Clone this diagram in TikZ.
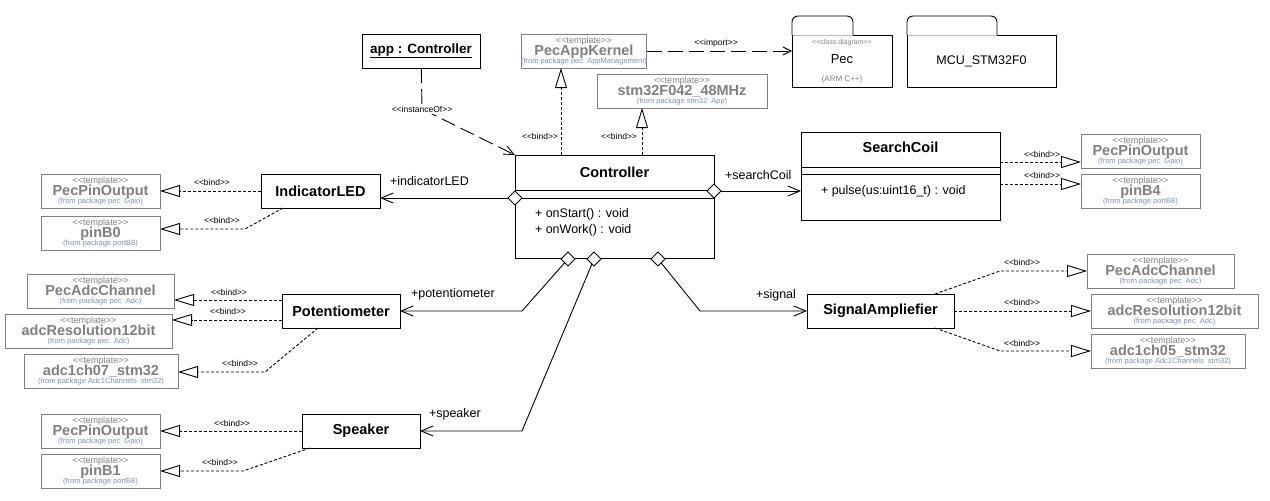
\documentclass[tikz,border=0pt]{standalone}
\usepackage{fontspec}
\setmainfont{Liberation Sans}
\usetikzlibrary{positioning,shapes.geometric,arrows.meta}

\definecolor{tgray}{RGB}{128,128,128}
\definecolor{tfrom}{RGB}{128,145,172}
\definecolor{pkgsep}{RGB}{190,190,190}

\newcommand{\stereo}[1]{<\kern0pt<#1>\kern0pt>}
\newcommand{\tmplbody}[2]{{\fontsize{9}{9}\selectfont\color{tgray}\stereo{template}}\\[2pt]%
  {\fontsize{14.5}{15}\selectfont\bfseries\color{tgray}#1}\\[-2pt]%
  {\fontsize{7.5}{7.5}\selectfont\color{tfrom}#2}}

\begin{document}
\begin{tikzpicture}[x=1pt, y=-1pt,
  every node/.style={inner sep=0pt, outer sep=0pt},
  classbox/.style={draw, line width=0.9pt, fill=white, anchor=north west, minimum height=34, font=\fontsize{14.5}{16}\selectfont\bfseries},
  tmplbox/.style={draw=tgray, line width=0.9pt, fill=white, anchor=north west, minimum height=34, align=center, font={\fontsize{7}{10}\selectfont\lineskiplimit=-50pt\relax}},
  pkgbox/.style={draw, line width=0.9pt, fill=white, anchor=north west, minimum height=52},
  aggr/.style={diamond, draw, fill=white, line width=0.8pt, minimum width=14, minimum height=14},
  assoc/.style={line width=0.9pt, -{Straight Barb[length=12pt,width=10pt]}},
  bindline/.style={line width=0.9pt, dash pattern=on 3pt off 2pt, -{Triangle[open,length=20pt,width=12pt]}},
  depline/.style={line width=0.9pt, dash pattern=on 15pt off 6pt, -{Straight Barb[length=10pt,width=9pt]}},
  stlbl/.style={font=\fontsize{8.5}{9}\selectfont},
  rolelbl/.style={font=\fontsize{12.5}{14}\selectfont, anchor=west},
]
\fill[white] (0,0) rectangle (1270,501);
\useasboundingbox (0,0) rectangle (1270,501);

% instance and templates at the top
\node[classbox, minimum width=118, font=\fontsize{13.5}{15}\selectfont\bfseries] (app) at (362,34) {\underline{app : Controller}};
\node[tmplbox, minimum width=119] (appkern) at (521,34) {\tmplbody{PecAppKernel}{(from package pec\ \ AppManagement)}};
\node[tmplbox, minimum width=170] (stm) at (597,74) {\tmplbody{stm32F042\_48MHz}{(from package stm32\ \ App)}};

% packages
\node[pkgbox, minimum width=100, align=center, font={\fontsize{7}{10}\selectfont\lineskiplimit=-50pt\relax}] (pec) at (792,35) {{\color{tgray}\stereo{class diagram}}\\[9pt]{\fontsize{13}{14}\selectfont Pec}\\[8pt]{\fontsize{8}{9}\selectfont\color{tgray}(ARM C++)}};
\draw[line width=0.9pt, rounded corners=6pt] (pec.north west) -- ([yshift=19pt]pec.north west) -- ([xshift=61pt,yshift=19pt]pec.north west) -- ([xshift=61pt]pec.north west);
\draw[pkgsep, line width=0.9pt] ([xshift=0.5pt]pec.north west) -- ([xshift=60.5pt]pec.north west);

\node[pkgbox, minimum width=149, font=\fontsize{12.5}{14}\selectfont] (mcu) at (907,35) {MCU\_STM32F0};
\draw[line width=0.9pt, rounded corners=6pt] (mcu.north west) -- ([yshift=19pt]mcu.north west) -- ([xshift=90pt,yshift=19pt]mcu.north west) -- ([xshift=90pt]mcu.north west);
\draw[pkgsep, line width=0.9pt] ([xshift=0.5pt]mcu.north west) -- ([xshift=89.5pt]mcu.north west);

% Controller
\node[classbox, minimum width=199, minimum height=103] (ctrl) at (515,155) {};
\node[font=\fontsize{14.5}{16}\selectfont\bfseries] (ctrlname) at ([yshift=-17pt]ctrl.north) {Controller};
\draw[line width=0.9pt] ([yshift=-35pt]ctrl.north west) -- ([yshift=-35pt]ctrl.north east);
\draw[line width=0.9pt] ([yshift=-43pt]ctrl.north west) -- ([yshift=-43pt]ctrl.north east);
\node[font=\fontsize{12.5}{16}\selectfont, align=left, anchor=north west] (ctrlops) at (535,208) {+ onStart() : void\\+ onWork() : void};

% SearchCoil
\node[classbox, minimum width=199, minimum height=88] (coil) at (801,132) {};
\node[font=\fontsize{14.5}{16}\selectfont\bfseries] (coilname) at ([yshift=-15pt]coil.north) {SearchCoil};
\draw[line width=0.9pt] ([yshift=-35pt]coil.north west) -- ([yshift=-35pt]coil.north east);
\draw[line width=0.9pt] ([yshift=-42pt]coil.north west) -- ([yshift=-42pt]coil.north east);
\node[font=\fontsize{12.5}{16}\selectfont, anchor=base west] (coilops) at (821,194) {+ pulse(us:uint16\_t) : void};

% the other classes
\node[classbox, minimum width=119] (ledA) at (261,174) {IndicatorLED};
\node[classbox, minimum width=118] (pot) at (282,294) {Potentiometer};
\node[classbox, minimum width=118] (spk) at (302,414) {Speaker};
\node[classbox, minimum width=147] (sig) at (807,294) {SignalAmpliefier};

% templates, left
\node[tmplbox, minimum width=119] (pinoutA) at (41,174) {\tmplbody{PecPinOutput}{(from package pec\ \ Gpio)}};
\node[tmplbox, minimum width=119] (pinbzero) at (41,216) {\tmplbody{pinB0}{(from package portB8)}};
\node[tmplbox, minimum width=147] (adcchanA) at (27,274) {\tmplbody{PecAdcChannel}{(from package pec\ \ Adc)}};
\node[tmplbox, minimum width=167] (adcresA) at (5,314) {\tmplbody{adcResolution12bit}{(from package pec\ \ Adc)}};
\node[tmplbox, minimum width=154] (adc07) at (24,354) {\tmplbody{adc1ch07\_stm32}{(from package Adc1Channels\ \ stm32)}};
\node[tmplbox, minimum width=119] (pinoutB) at (41,414) {\tmplbody{PecPinOutput}{(from package pec\ \ Gpio)}};
\node[tmplbox, minimum width=119] (pinbone) at (41,454) {\tmplbody{pinB1}{(from package portB8)}};

% templates, right
\node[tmplbox, minimum width=119] (pinoutC) at (1081,134) {\tmplbody{PecPinOutput}{(from package pec\ \ Gpio)}};
\node[tmplbox, minimum width=119] (pinbfour) at (1081,174) {\tmplbody{pinB4}{(from package portB8)}};
\node[tmplbox, minimum width=147] (adcchanB) at (1087,254) {\tmplbody{PecAdcChannel}{(from package pec\ \ Adc)}};
\node[tmplbox, minimum width=167] (adcresB) at (1091,294) {\tmplbody{adcResolution12bit}{(from package pec\ \ Adc)}};
\node[tmplbox, minimum width=154] (adc05) at (1091,334) {\tmplbody{adc1ch05\_stm32}{(from package Adc1Channels\ \ stm32)}};

% aggregation diamonds on the Controller
\node[aggr] (dled) at (515,198) {};
\node[aggr] (dcoil) at (714,191) {};
\node[aggr] (dpot) at (568,259) {};
\node[aggr] (dspk) at (594,259) {};
\node[aggr] (dsig) at (658,259) {};

% bend points and line ends
\coordinate (kinst) at (422,109);
\coordinate (cbA) at ([xshift=46pt]ctrl.north west);
\coordinate (cbB) at ([xshift=127pt]ctrl.north west);
\coordinate (kpotc) at (522,311);
\coordinate (kspkc) at (522,431);
\coordinate (ksig) at (700,311);
\coordinate (ledS) at ([xshift=22pt]ledA.south west);
\coordinate (kled) at (245,229);
\coordinate (potA) at ([yshift=11pt]pot.west);
\coordinate (potB) at ([yshift=-9pt]pot.west);
\coordinate (potS) at ([xshift=36pt]pot.south west);
\coordinate (kpot) at (265,372);
\coordinate (spkS) at ([xshift=8pt]spk.south west);
\coordinate (kspk) at (243,471);
\coordinate (coilA) at ([yshift=-30pt]coil.north east);
\coordinate (coilB) at ([yshift=-52pt]coil.north east);
\coordinate (sigN) at ([xshift=-19pt]sig.north east);
\coordinate (ksigA) at (1000,271);
\coordinate (sigS) at ([xshift=-19pt]sig.south east);
\coordinate (ksigC) at (1000,351);

% associations
\draw[assoc] (dled) -- (dled -| ledA.east);
\draw[assoc] (dcoil) -- (dcoil -| coil.west);
\draw[assoc] (dpot) -- (kpotc) -- (pot);
\draw[assoc] (dspk) -- (kspkc) -- (spk);
\draw[assoc] (dsig) -- (ksig) -- (sig);

% dependencies
\draw[depline] (app) -- (kinst) -- (ctrl.north west);
\draw[depline, -{Straight Barb[length=8pt,width=8pt]}] (appkern) -- (appkern -| pec.west);

% bindings
\draw[bindline] (cbA) -- (cbA |- appkern.south);
\draw[bindline] (cbB) -- (cbB |- stm.south);
\draw[bindline] (ledA) -- (pinoutA);
\draw[bindline] (ledS) -- (kled) -- (kled -| pinbzero.east);
\draw[bindline] (potA) -- (potA -| adcchanA.east);
\draw[bindline] (potB) -- (potB -| adcresA.east);
\draw[bindline] (potS) -- (kpot) -- (kpot -| adc07.east);
\draw[bindline] (spk) -- (pinoutB);
\draw[bindline] (spkS) -- (kspk) -- (kspk -| pinbone.east);
\draw[bindline] (coilA) -- (coilA -| pinoutC.west);
\draw[bindline] (coilB) -- (coilB -| pinbfour.west);
\draw[bindline] (sigN) -- (ksigA) -- (adcchanB);
\draw[bindline] (sig) -- (adcresB);
\draw[bindline] (sigS) -- (ksigC) -- (adc05);

% stereotype labels
\node[stlbl, fill=white, inner sep=2pt] (lblinst) at (kinst) {\stereo{instanceOf}};
\node[stlbl] (lblimp) at (716,43) {\stereo{import}};
\node[stlbl] (lbkern) at (540,136) {\stereo{bind}};
\node[stlbl] (lbstm) at (619,136) {\stereo{bind}};
\node[stlbl] (lbledA) at (212,182) {\stereo{bind}};
\node[stlbl] (lbledB) at (222,220) {\stereo{bind}};
\node[stlbl] (lbpotA) at (229,292) {\stereo{bind}};
\node[stlbl] (lbpotB) at (228,311) {\stereo{bind}};
\node[stlbl] (lbpotC) at (240,363) {\stereo{bind}};
\node[stlbl] (lbspkA) at (232,423) {\stereo{bind}};
\node[stlbl] (lbspkB) at (220,462) {\stereo{bind}};
\node[stlbl] (lbcoilA) at (1042,154) {\stereo{bind}};
\node[stlbl] (lbcoilB) at (1042,175) {\stereo{bind}};
\node[stlbl] (lbsigA) at (1022,262) {\stereo{bind}};
\node[stlbl] (lbsigB) at (1022,302) {\stereo{bind}};
\node[stlbl] (lbsigC) at (1022,343) {\stereo{bind}};

% role names
\node[rolelbl] (rled) at (390,181) {+indicatorLED};
\node[rolelbl] (rcoil) at (725,175) {+searchCoil};
\node[rolelbl] (rpot) at (411,294) {+potentiometer};
\node[rolelbl] (rspk) at (429,414) {+speaker};
\node[rolelbl] (rsig) at (756,295) {+signal};
\end{tikzpicture}
\end{document}
